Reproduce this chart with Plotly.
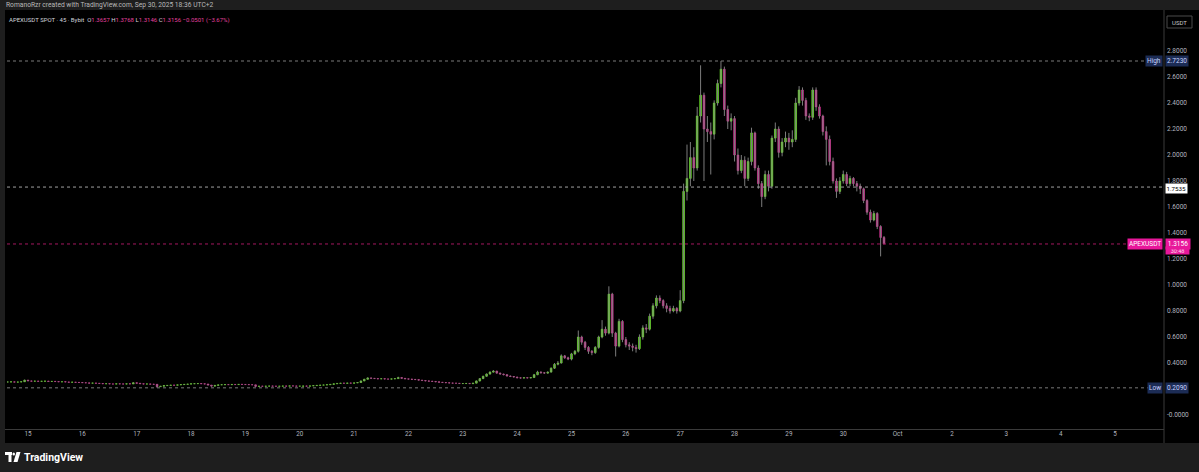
import plotly.graph_objects as go
import pandas as pd

# ---------------- data (90-minute candles) ----------------
start_time = "2025-09-14 15:00"
first_open = 0.254

close_sep14 = [0.254, 0.255, 0.253, 0.254, 0.256, 0.268]
high_sep14 = [0.257, 0.258, 0.257, 0.256, 0.259, 0.272]
low_sep14 = [0.251, 0.252, 0.251, 0.251, 0.252, 0.254]

close_sep15 = [0.262, 0.260, 0.261, 0.259, 0.260, 0.261, 0.258, 0.259, 0.257, 0.255, 0.256, 0.254, 0.252, 0.253, 0.251, 0.250]
high_sep15 = [0.270, 0.264, 0.263, 0.262, 0.262, 0.263, 0.262, 0.261, 0.260, 0.258, 0.258, 0.257, 0.255, 0.255, 0.254, 0.253]
low_sep15 = [0.260, 0.258, 0.258, 0.257, 0.257, 0.258, 0.256, 0.256, 0.255, 0.253, 0.253, 0.252, 0.250, 0.250, 0.249, 0.248]

close_sep16 = [0.248, 0.247, 0.245, 0.246, 0.244, 0.242, 0.240, 0.241, 0.239, 0.238, 0.240, 0.239, 0.238, 0.240, 0.239, 0.248]
high_sep16 = [0.252, 0.250, 0.249, 0.248, 0.247, 0.245, 0.243, 0.243, 0.242, 0.240, 0.242, 0.242, 0.241, 0.242, 0.242, 0.252]
low_sep16 = [0.246, 0.245, 0.243, 0.243, 0.242, 0.240, 0.238, 0.238, 0.237, 0.236, 0.237, 0.237, 0.236, 0.236, 0.237, 0.238]

close_sep17 = [0.244, 0.240, 0.238, 0.239, 0.237, 0.236, 0.218, 0.222, 0.226, 0.228, 0.230, 0.229, 0.232, 0.234, 0.236, 0.238]
high_sep17 = [0.249, 0.245, 0.241, 0.241, 0.240, 0.239, 0.237, 0.224, 0.228, 0.230, 0.232, 0.231, 0.234, 0.236, 0.238, 0.240]
low_sep17 = [0.242, 0.238, 0.236, 0.236, 0.235, 0.234, 0.209, 0.216, 0.220, 0.224, 0.226, 0.227, 0.228, 0.230, 0.232, 0.234]

close_sep18 = [0.240, 0.241, 0.242, 0.240, 0.238, 0.230, 0.222, 0.228, 0.232, 0.233, 0.234, 0.233, 0.235, 0.234, 0.236, 0.235]
high_sep18 = [0.242, 0.243, 0.244, 0.243, 0.241, 0.239, 0.231, 0.230, 0.234, 0.235, 0.236, 0.236, 0.237, 0.237, 0.238, 0.237]
low_sep18 = [0.236, 0.238, 0.239, 0.238, 0.236, 0.228, 0.218, 0.220, 0.226, 0.230, 0.231, 0.231, 0.232, 0.232, 0.233, 0.233]

close_sep19 = [0.234, 0.233, 0.232, 0.220, 0.222, 0.221, 0.222, 0.223, 0.222, 0.221, 0.222, 0.223, 0.222, 0.224, 0.223, 0.222]
high_sep19 = [0.237, 0.236, 0.235, 0.233, 0.224, 0.224, 0.224, 0.225, 0.225, 0.224, 0.224, 0.225, 0.225, 0.226, 0.226, 0.225]
low_sep19 = [0.232, 0.231, 0.230, 0.217, 0.218, 0.219, 0.219, 0.220, 0.220, 0.219, 0.219, 0.220, 0.220, 0.221, 0.221, 0.220]

close_sep20 = [0.222, 0.223, 0.222, 0.224, 0.226, 0.228, 0.230, 0.231, 0.233, 0.236, 0.240, 0.243, 0.245, 0.244, 0.246, 0.245]
high_sep20 = [0.224, 0.225, 0.225, 0.226, 0.228, 0.230, 0.232, 0.233, 0.235, 0.238, 0.242, 0.245, 0.247, 0.247, 0.248, 0.248]
low_sep20 = [0.220, 0.220, 0.220, 0.221, 0.222, 0.225, 0.227, 0.229, 0.230, 0.232, 0.235, 0.239, 0.241, 0.242, 0.242, 0.243]

close_sep21 = [0.247, 0.250, 0.262, 0.275, 0.285, 0.282, 0.280, 0.278, 0.279, 0.277, 0.276, 0.278, 0.280, 0.288, 0.282, 0.278]
high_sep21 = [0.249, 0.253, 0.265, 0.278, 0.290, 0.288, 0.284, 0.282, 0.282, 0.281, 0.279, 0.280, 0.283, 0.294, 0.290, 0.284]
low_sep21 = [0.243, 0.245, 0.248, 0.260, 0.272, 0.278, 0.277, 0.275, 0.276, 0.274, 0.273, 0.274, 0.276, 0.278, 0.279, 0.275]

close_sep22 = [0.276, 0.274, 0.272, 0.268, 0.265, 0.262, 0.260, 0.258, 0.255, 0.252, 0.250, 0.248, 0.246, 0.245, 0.244, 0.242]
high_sep22 = [0.280, 0.278, 0.276, 0.274, 0.270, 0.267, 0.265, 0.262, 0.260, 0.257, 0.254, 0.252, 0.250, 0.248, 0.247, 0.246]
low_sep22 = [0.273, 0.271, 0.269, 0.265, 0.262, 0.259, 0.257, 0.255, 0.252, 0.249, 0.247, 0.245, 0.243, 0.242, 0.241, 0.239]

close_sep23 = [0.242, 0.243, 0.241, 0.245, 0.262, 0.280, 0.298, 0.315, 0.330, 0.338, 0.322, 0.315, 0.310, 0.300, 0.296, 0.292]
high_sep23 = [0.245, 0.246, 0.245, 0.248, 0.265, 0.284, 0.302, 0.320, 0.336, 0.346, 0.340, 0.326, 0.318, 0.314, 0.304, 0.300]
low_sep23 = [0.239, 0.240, 0.238, 0.239, 0.243, 0.258, 0.276, 0.294, 0.310, 0.326, 0.318, 0.310, 0.305, 0.296, 0.292, 0.288]

close_sep24 = [0.286, 0.284, 0.287, 0.285, 0.288, 0.310, 0.330, 0.325, 0.322, 0.330, 0.360, 0.390, 0.400, 0.455, 0.440, 0.430]
high_sep24 = [0.294, 0.290, 0.291, 0.290, 0.292, 0.316, 0.340, 0.336, 0.330, 0.336, 0.366, 0.400, 0.415, 0.466, 0.462, 0.448]
low_sep24 = [0.282, 0.280, 0.281, 0.281, 0.282, 0.286, 0.306, 0.318, 0.316, 0.318, 0.326, 0.354, 0.382, 0.395, 0.432, 0.422]

close_sep25 = [0.470, 0.490, 0.600, 0.560, 0.520, 0.490, 0.480, 0.520, 0.600, 0.660, 0.630, 0.930, 0.630, 0.530, 0.720, 0.580]
high_sep25 = [0.478, 0.500, 0.650, 0.610, 0.570, 0.530, 0.500, 0.530, 0.610, 0.730, 0.680, 0.990, 0.940, 0.640, 0.740, 0.730]
low_sep25 = [0.420, 0.460, 0.480, 0.540, 0.500, 0.470, 0.460, 0.470, 0.510, 0.590, 0.610, 0.620, 0.600, 0.450, 0.520, 0.560]

close_sep26 = [0.540, 0.530, 0.520, 0.510, 0.600, 0.670, 0.660, 0.760, 0.840, 0.900, 0.880, 0.840, 0.820, 0.800, 0.820, 0.800]
high_sep26 = [0.600, 0.560, 0.550, 0.540, 0.620, 0.690, 0.700, 0.780, 0.860, 0.920, 0.920, 0.890, 0.860, 0.840, 0.840, 0.830]
low_sep26 = [0.520, 0.500, 0.490, 0.480, 0.500, 0.580, 0.630, 0.650, 0.740, 0.820, 0.860, 0.820, 0.790, 0.780, 0.790, 0.780]

close_sep27 = [0.880, 1.720, 1.820, 1.980, 1.900, 2.300, 2.460, 2.200, 2.180, 2.160, 2.400, 2.550, 2.660, 2.350, 2.260, 2.280]
high_sep27 = [0.960, 1.780, 2.080, 2.100, 2.060, 2.370, 2.690, 2.480, 2.300, 2.250, 2.420, 2.580, 2.723, 2.680, 2.380, 2.320]
low_sep27 = [0.790, 0.860, 1.650, 1.760, 1.800, 1.880, 2.250, 1.800, 2.100, 1.850, 2.120, 2.380, 2.520, 2.300, 2.200, 2.190]

close_sep28 = [2.000, 1.880, 1.960, 1.820, 1.950, 2.170, 1.900, 1.780, 1.680, 1.850, 1.760, 2.130, 2.200, 2.020, 2.100, 2.130]
high_sep28 = [2.300, 2.050, 2.000, 1.990, 1.980, 2.210, 2.180, 1.920, 1.800, 1.880, 1.880, 2.150, 2.250, 2.220, 2.130, 2.180]
low_sep28 = [1.950, 1.850, 1.860, 1.760, 1.800, 1.920, 1.880, 1.740, 1.600, 1.660, 1.720, 1.740, 2.100, 1.980, 1.990, 2.060]

close_sep29 = [2.100, 2.120, 2.400, 2.500, 2.420, 2.300, 2.290, 2.500, 2.370, 2.300, 2.180, 2.120, 1.950, 1.800, 1.720, 1.800]
high_sep29 = [2.170, 2.190, 2.440, 2.530, 2.520, 2.440, 2.320, 2.520, 2.520, 2.390, 2.310, 2.220, 2.150, 1.980, 1.820, 1.830]
low_sep29 = [2.040, 2.060, 2.100, 2.380, 2.380, 2.270, 2.260, 2.270, 2.340, 2.280, 2.150, 1.920, 1.920, 1.780, 1.670, 1.700]

close_sep30 = [1.850, 1.780, 1.820, 1.780, 1.760, 1.740, 1.650, 1.560, 1.500, 1.550, 1.450, 1.3657, 1.3156]
high_sep30 = [1.880, 1.870, 1.840, 1.830, 1.800, 1.780, 1.750, 1.660, 1.580, 1.570, 1.560, 1.460, 1.3768]
low_sep30 = [1.780, 1.760, 1.760, 1.760, 1.720, 1.700, 1.630, 1.540, 1.480, 1.490, 1.430, 1.220, 1.3146]

day_ticks = pd.date_range("2025-09-15", "2025-10-05", freq="D")
day_labels = ["15", "16", "17", "18", "19", "20", "21", "22", "23", "24", "25", "26",
              "27", "28", "29", "30", "Oct", "2", "3", "4", "5"]
# 0.2000 is hidden behind the "Low" label in the reference
price_ticks = [0.0, 0.4, 0.6, 0.8, 1.0, 1.2, 1.4, 1.6, 1.8, 2.0, 2.2, 2.4, 2.6, 2.8]
price_labels = ["-0.0000", "0.4000", "0.6000", "0.8000", "1.0000", "1.2000", "1.4000",
                "1.6000", "1.8000", "2.0000", "2.2000", "2.4000", "2.6000", "2.8000"]

high_level = 2.7230
low_level = 0.2090
line_level = 1.7535
last_price = 1.3156

# ---------------- assemble ----------------
closes = (close_sep14 + close_sep15 + close_sep16 + close_sep17 + close_sep18 + close_sep19 +
          close_sep20 + close_sep21 + close_sep22 + close_sep23 + close_sep24 + close_sep25 +
          close_sep26 + close_sep27 + close_sep28 + close_sep29 + close_sep30)
highs = (high_sep14 + high_sep15 + high_sep16 + high_sep17 + high_sep18 + high_sep19 +
         high_sep20 + high_sep21 + high_sep22 + high_sep23 + high_sep24 + high_sep25 +
         high_sep26 + high_sep27 + high_sep28 + high_sep29 + high_sep30)
lows = (low_sep14 + low_sep15 + low_sep16 + low_sep17 + low_sep18 + low_sep19 +
        low_sep20 + low_sep21 + low_sep22 + low_sep23 + low_sep24 + low_sep25 +
        low_sep26 + low_sep27 + low_sep28 + low_sep29 + low_sep30)
opens = [first_open] + closes[:-1]
times = pd.date_range(start_time, periods=len(closes), freq="90min")

UP = "#72f52c"
DOWN = "#e3379f"
colors = [UP if c >= o else DOWN for o, c in zip(opens, closes)]
base = [min(o, c) for o, c in zip(opens, closes)]
body = [abs(c - o) for o, c in zip(opens, closes)]

wx, wy = [], []
for t, h, l in zip(times, highs, lows):
    wx += [t, t, None]
    wy += [l, h, None]

# ---------------- geometry (pixels of the 1199x472 page) ----------------
W, H = 1199, 472
L, R, T, B = 7, 1163, 10, 429
PXDAY = 54.35
X15 = 28


def px(xp):
    return (xp - L) / (R - L)


def py(yp):
    return (B - yp) / (B - T)


t0 = pd.Timestamp("2025-09-15")
x_left = t0 + pd.Timedelta(days=(L - X15) / PXDAY)
x_right = t0 + pd.Timedelta(days=(R - X15) / PXDAY)
y_top = (415 - T) / 130.0
y_bot = (415 - B) / 130.0

fig = go.Figure()
fig.add_trace(go.Scatter(x=wx, y=wy, mode="lines", line=dict(color="#7c7c7c", width=1),
                         hoverinfo="skip", showlegend=False))
fig.add_trace(go.Bar(x=times, base=base, y=body, width=90 * 60 * 1000 * 0.5,
                     marker=dict(color=colors, line=dict(color=colors, width=0.6)),
                     showlegend=False))

FONT = "Roboto, Liberation Sans, sans-serif"
AX = "#b2b5be"

shapes = [
    # black chart panel incl. axis strips
    dict(type="rect", xref="paper", yref="paper", x0=px(5), x1=px(1199), y0=py(443), y1=py(10),
         fillcolor="#000000", line=dict(width=0), layer="below"),
    # separators
    dict(type="line", xref="paper", yref="paper", x0=px(1164), x1=px(1164), y0=py(443), y1=py(10),
         line=dict(color="#3a3a3a", width=1)),
    dict(type="line", xref="paper", yref="paper", x0=px(5), x1=px(1164), y0=py(429.5), y1=py(429.5),
         line=dict(color="#3a3a3a", width=1)),
    # level lines
    dict(type="line", xref="paper", yref="y", x0=0, x1=1, y0=high_level, y1=high_level,
         line=dict(color="#7a7a7a", width=1, dash="dot")),
    dict(type="line", xref="paper", yref="y", x0=0, x1=1, y0=low_level, y1=low_level,
         line=dict(color="#7a7a7a", width=1, dash="dot")),
    dict(type="line", xref="paper", yref="y", x0=0, x1=1, y0=line_level, y1=line_level,
         line=dict(color="#a0a0a0", width=1, dash="dot")),
    dict(type="line", xref="paper", yref="y", x0=0, x1=1, y0=last_price, y1=last_price,
         line=dict(color="#a3175f", width=1, dash="dot")),
    # USDT box
    dict(type="rect", xref="paper", yref="paper", x0=px(1167), x1=px(1192), y0=py(28), y1=py(16),
         line=dict(color="#4a4a4a", width=1), fillcolor="#000000"),
]

# TradingView logo (simple glyph)
logo = [
    dict(type="rect", xref="paper", yref="paper", x0=px(5), x1=px(12), y0=py(455), y1=py(452),
         fillcolor="#ffffff", line=dict(width=0)),
    dict(type="rect", xref="paper", yref="paper", x0=px(8.5), x1=px(11.5), y0=py(462), y1=py(455),
         fillcolor="#ffffff", line=dict(width=0)),
    dict(type="circle", xref="paper", yref="paper", x0=px(12.5), x1=px(15), y0=py(455.5), y1=py(452.5),
         fillcolor="#ffffff", line=dict(width=0)),
    dict(type="path", xref="paper", yref="paper",
         path=f"M {px(16.5)} {py(452)} L {px(20.5)} {py(452)} L {px(17.5)} {py(462)} L {px(13.5)} {py(462)} Z",
         fillcolor="#ffffff", line=dict(width=0)),
]
shapes += logo

val = "#e0409f"
legend_txt = ("APEXUSDT SPOT · 45 · Bybit  "
              f"O<span style='color:{val}'>1.3657</span> "
              f"H<span style='color:{val}'>1.3768</span> "
              f"L<span style='color:{val}'>1.3146</span> "
              f"C<span style='color:{val}'>1.3156</span> "
              f"<span style='color:{val}'>−0.0501 (−3.67%)</span>")

NAVY = "#1c2c55"
NAVY_TXT = "#c9d3ff"
PINK = "#e8179a"
LBL = 6.5

ann = [
    dict(text="RomanoRzr created with TradingView.com, Sep 30, 2025 18:36 UTC+2",
         xref="paper", yref="paper", x=px(4), y=py(5), xanchor="left", yanchor="middle",
         showarrow=False, font=dict(size=6.7, color="#b8b8b8", family=FONT)),
    dict(text=legend_txt, xref="paper", yref="paper", x=px(7), y=py(20), xanchor="left",
         yanchor="middle", showarrow=False, font=dict(size=6, color="#d1d4dc", family=FONT)),
    dict(text="USDT", xref="paper", yref="paper", x=px(1179.5), y=py(22), xanchor="center",
         yanchor="middle", showarrow=False, font=dict(size=6, color="#c8c8c8", family=FONT)),
    # High
    dict(text="High", xref="paper", yref="y", x=px(1163), y=high_level, xanchor="right",
         yanchor="middle", showarrow=False, bgcolor=NAVY, borderpad=1,
         font=dict(size=LBL, color=NAVY_TXT, family=FONT)),
    dict(text="2.7230", xref="paper", yref="y", x=px(1165), y=high_level, xanchor="left",
         yanchor="middle", showarrow=False, bgcolor=NAVY, borderpad=1,
         font=dict(size=LBL, color=NAVY_TXT, family=FONT)),
    # Low
    dict(text="Low", xref="paper", yref="y", x=px(1163), y=low_level, xanchor="right",
         yanchor="middle", showarrow=False, bgcolor=NAVY, borderpad=1,
         font=dict(size=LBL, color=NAVY_TXT, family=FONT)),
    dict(text="0.2090", xref="paper", yref="y", x=px(1165), y=low_level, xanchor="left",
         yanchor="middle", showarrow=False, bgcolor=NAVY, borderpad=1,
         font=dict(size=LBL, color=NAVY_TXT, family=FONT)),
    # horizontal line value
    dict(text="1.7535", xref="paper", yref="y", x=px(1165), y=line_level, xanchor="left",
         yanchor="middle", yshift=-1, showarrow=False, bgcolor="#ffffff", borderpad=0.5,
         font=dict(size=6.2, color="#000000", family=FONT)),
    # last price
    dict(text="APEXUSDT", xref="paper", yref="y", x=px(1163), y=last_price, xanchor="right",
         yanchor="middle", showarrow=False, bgcolor=PINK, borderpad=1,
         font=dict(size=LBL, color="#ffffff", family=FONT)),
    dict(text="30:48", xref="paper", yref="y", x=px(1165), y=last_price, xanchor="left",
         yanchor="middle", yshift=-7, width=22, align="center", showarrow=False,
         bgcolor=PINK, borderpad=0.5, font=dict(size=5.5, color="#ffe0f0", family=FONT)),
    dict(text="1.3156", xref="paper", yref="y", x=px(1165), y=last_price, xanchor="left",
         yanchor="middle", width=22, align="center", showarrow=False,
         bgcolor=PINK, borderpad=1, font=dict(size=LBL, color="#ffffff", family=FONT)),
    # footer brand
    dict(text="<b>TradingView</b>", xref="paper", yref="paper", x=px(21.5), y=py(457), xanchor="left",
         yanchor="middle", showarrow=False, font=dict(size=10.5, color="#ffffff", family=FONT)),
]

fig.update_layout(
    width=W, height=H,
    margin=dict(l=L, r=W - R, t=T, b=H - B),
    paper_bgcolor="#1e1e1e",
    plot_bgcolor="#000000",
    showlegend=False,
    bargap=0,
    shapes=shapes,
    annotations=ann,
    xaxis=dict(type="date", range=[x_left, x_right], tickvals=list(day_ticks), ticktext=day_labels,
               showgrid=False, zeroline=False, showline=False, ticks="",
               tickfont=dict(size=6.3, color=AX, family=FONT), fixedrange=True),
    yaxis=dict(side="right", range=[y_bot, y_top], tickvals=price_ticks, ticktext=price_labels,
               showgrid=False, zeroline=False, showline=False, ticks="", ticklabelstandoff=3,
               tickfont=dict(size=6.5, color=AX, family=FONT), fixedrange=True),
)

fig.write_html("out.html", config={"displayModeBar": False, "staticPlot": True},
               post_script="document.body.style.margin='0';document.body.style.padding='0';"
                           "document.body.style.background='#1e1e1e';")
